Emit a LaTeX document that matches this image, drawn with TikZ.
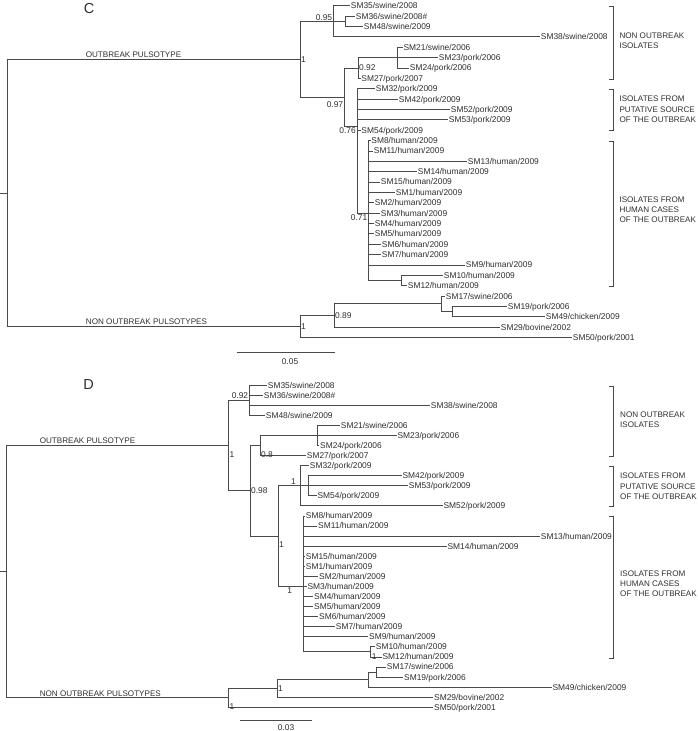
\documentclass[tikz,border=0pt]{standalone}
\usepackage{fontspec}
\setmainfont{Liberation Sans}
\usetikzlibrary{positioning}
\definecolor{tree1}{HTML}{4A4A4A}
\definecolor{tree2}{HTML}{2E2E2E}

\begin{document}
\begin{tikzpicture}[x=1pt,y=-1pt,
  limb/.style={draw=tree1, line width=0.75pt},
  leaf/.style={anchor=west, inner xsep=0.7pt, inner ysep=0pt, text height=6pt, text depth=0pt, text=tree2, font=\fontsize{8.4}{10}\selectfont},
  support/.style={inner sep=1pt, text height=6pt, text depth=0pt, text=tree2, font=\fontsize{8.4}{10}\selectfont},
  group/.style={anchor=south, inner sep=1.5pt, text=tree2, font=\fontsize{8.1}{10}\selectfont},
  clade/.style={anchor=west, align=left, inner sep=0pt, text=tree2, font=\fontsize{8.1}{10.2}\selectfont},
  panel/.style={text=tree2, font=\fontsize{14.5}{16}\selectfont}]
\useasboundingbox (0,0) rectangle (697,731);

% ---- panel C ----
\node[panel] (pC) at (89,8.5) {C};
\coordinate (stemC) at (0,192.9);
\coordinate (rootC) at (7,192.9);
\coordinate (n1C) at (300,59.3);
\coordinate (n095) at (333.3,21.3);
\coordinate (iC36) at (345,21.3);
\coordinate (n097) at (344.3,97.3);
\coordinate (n092) at (358,67.9);
\coordinate (cC21) at (397.3,57.55);
\coordinate (n076) at (357,126.7);
\coordinate (n071) at (368.5,213.1);
\coordinate (cC10) at (401.7,280.5);
\coordinate (n1Cb) at (300,326.5);
\coordinate (n089) at (334,315.5);
\coordinate (cC17) at (441,303.8);
\coordinate (cC19) at (452,311.6);
\draw[limb] (stemC) -- (rootC) (rootC) |- (n1C) (rootC) |- (n1Cb)
  (n1C) |- (n095) (n1C) |- (n097) (n095) -- (iC36)
  (n097) |- (n092) (n097) |- (n076) (n092) |- (cC21)
  (n076) |- (n071) (n071) |- (cC10)
  (n1Cb) |- (n089) (n089) |- (cC17) (cC17) |- (cC19);
\foreach \id/\host/\yr/\up/\xe [count=\i from 0] in {
  35/swine/2008/n095/350, 36/swine/2008\#/iC36/355, 48/swine/2009/iC36/363, 38/swine/2008/n095/540,
  21/swine/2006/cC21/402.7, 23/pork/2006/cC21/438, 24/pork/2006/cC21/409, 27/pork/2007/n092/360.5,
  32/pork/2009/n076/375, 42/pork/2009/n076/398, 52/pork/2009/n076/450, 53/pork/2009/n076/448, 54/pork/2009/n076/360.5,
  8/human/2009/n071/370.5, 11/human/2009/n071/373, 13/human/2009/n071/467, 14/human/2009/n071/417,
  15/human/2009/n071/380, 1/human/2009/n071/395, 2/human/2009/n071/374, 3/human/2009/n071/380,
  4/human/2009/n071/374, 5/human/2009/n071/374, 6/human/2009/n071/381, 7/human/2009/n071/381,
  9/human/2009/n071/465, 10/human/2009/cC10/443, 12/human/2009/cC10/407,
  17/swine/2006/cC17/445, 19/pork/2006/cC19/507, 49/chicken/2009/cC19/545,
  29/bovine/2002/n089/500, 50/pork/2001/n1Cb/572}
{
  \node[leaf] (C\id) at (\xe,5.7+\i*10.37) {SM\id/\host/\yr};
  \draw[limb] (\up) |- (C\id.west);
}
\node[support, anchor=south east] (sC095) at (n095) {0.95};
\node[support, anchor=west] (sC1) at (n1C) {1};
\node[support, anchor=west] (sC092) at (n092) {0.92};
\node[support, anchor=north east, yshift=-3pt] (sC097) at (n097) {0.97};
\node[support, anchor=north east] (sC076) at (n076) {0.76};
\node[support, anchor=north east] (sC071) at (n071) {0.71};
\node[support, anchor=west] (sC089) at (n089) {0.89};
\node[support, anchor=west] (sC1b) at (n1Cb) {1};
\node[group] (oC) at (133.5,59.3) {OUTBREAK PULSOTYPE};
\node[group] (nC) at (146.5,326.5) {NON OUTBREAK PULSOTYPES};
\node[clade] (gC1) at (619.3,41) {NON OUTBREAK\\ISOLATES};
\node[clade] (gC2) at (619.3,109.3) {ISOLATES FROM\\PUTATIVE SOURCE\\OF THE OUTBREAK};
\node[clade] (gC3) at (619.3,210) {ISOLATES FROM\\HUMAN CASES\\OF THE OUTBREAK};
\coordinate (sbC1) at (236.7,352.7);
\coordinate (sbC2) at (335,352.7);
\coordinate (sbCm) at (290,352.7);
\draw[limb] (sbC1) -- (sbC2);
\node[support, below=5pt of sbCm] (sbCt) {0.05};

% ---- panel D ----
\node[panel] (pD) at (88.5,385) {D};
\coordinate (stemD) at (0,571.6);
\coordinate (rootD) at (6,571.6);
\coordinate (n1D) at (228.3,445.4);
\coordinate (nD092) at (249.3,400.1);
\coordinate (nD098) at (250,490.7);
\coordinate (nD08) at (260,445.4);
\coordinate (cD21) at (317.3,435.35);
\coordinate (nDbig) at (278,536);
\coordinate (nDpork) at (300,485.7);
\coordinate (cD42) at (308.3,485.7);
\coordinate (nDhum) at (303.3,586.4);
\coordinate (cD10) at (370.7,651.86);
\coordinate (nDb2) at (228.3,697.8);
\coordinate (nDb1) at (277,688.4);
\coordinate (cDA) at (368.3,679.55);
\coordinate (cD17) at (376.7,672);
\draw[limb] (stemD) -- (rootD) (rootD) |- (n1D) (rootD) |- (nDb2)
  (n1D) |- (nD092) (n1D) |- (nD098) (nD098) |- (nD08) (nD098) |- (nDbig)
  (nD08) |- (cD21) (nDbig) |- (nDpork) (nDbig) |- (nDhum) (nDpork) -- (cD42)
  (nDhum) |- (cD10) (nDb2) |- (nDb1) (nDb1) |- (cDA) (cDA) |- (cD17);
\foreach \id/\host/\yr/\up/\xe [count=\i from 0] in {
  35/swine/2008/nD092/267, 36/swine/2008\#/nD092/263, 38/swine/2008/nD092/430, 48/swine/2009/nD092/265,
  21/swine/2006/cD21/340, 23/pork/2006/cD21/396.7, 24/pork/2006/cD21/319.3, 27/pork/2007/nD08/306,
  32/pork/2009/nDpork/309, 42/pork/2009/cD42/401.7, 53/pork/2009/cD42/408, 54/pork/2009/cD42/316.7, 52/pork/2009/nDpork/442.7,
  8/human/2009/nDhum/305, 11/human/2009/nDhum/317.3, 13/human/2009/nDhum/540, 14/human/2009/nDhum/446.7,
  15/human/2009/nDhum/305, 1/human/2009/nDhum/305, 2/human/2009/nDhum/318.3, 3/human/2009/nDhum/306.7,
  4/human/2009/nDhum/313.3, 5/human/2009/nDhum/313.3, 6/human/2009/nDhum/318.3, 7/human/2009/nDhum/335,
  9/human/2009/nDhum/368.3, 10/human/2009/cD10/375, 12/human/2009/cD10/381.7,
  17/swine/2006/cD17/386, 19/pork/2006/cD17/403.3, 49/chicken/2009/cDA/551.7,
  29/bovine/2002/nDb1/433.3, 50/pork/2001/nDb2/433.3}
{
  \node[leaf] (D\id) at (\xe,385+\i*10.07) {SM\id/\host/\yr};
  \draw[limb] (\up) |- (D\id.west);
}
\node[support, anchor=south east] (sD092) at (nD092) {0.92};
\node[support, anchor=north west, yshift=-5pt] (sD1) at (n1D) {1};
\node[support, anchor=north west, yshift=-5pt] (sD08) at (nD08) {0.8};
\node[support, anchor=west] (sD098) at (nD098) {0.98};
\node[support, anchor=south east, xshift=-3pt] (sDpork) at (nDpork) {1};
\node[support, anchor=north west, yshift=-4pt] (sDbig) at (nDbig) {1};
\node[support, anchor=north east, xshift=-10pt] (sDhum) at (nDhum) {1};
\node[support, anchor=north west] (sD10) at (cD10) {1};
\node[support, anchor=west] (sDb1) at (nDb1) {1};
\node[support, anchor=north west, yshift=-4pt] (sDb2) at (nDb2) {1};
\node[group] (oD) at (87.5,445.4) {OUTBREAK PULSOTYPE};
\node[group] (nD) at (100.3,697.8) {NON OUTBREAK PULSOTYPES};
\node[clade] (gD1) at (620,420) {NON OUTBREAK\\ISOLATES};
\node[clade] (gD2) at (620,486.3) {ISOLATES FROM\\PUTATIVE SOURCE\\OF THE OUTBREAK};
\node[clade] (gD3) at (620,584) {ISOLATES FROM\\HUMAN CASES\\OF THE OUTBREAK};
\coordinate (sbD1) at (240,720);
\coordinate (sbD2) at (312.3,720);
\coordinate (sbDm) at (286,720);
\draw[limb] (sbD1) -- (sbD2);
\node[support, below=3pt of sbDm] (sbDt) {0.03};

% brackets
\foreach \ya/\yb in {6.7/79, 89.3/130, 141/286.7, 386/456.7, 466.7/506.7, 516.7/658.3}
  \draw[limb] (609.3,\ya) -| (613.3,\yb) -- (609.3,\yb);
\end{tikzpicture}
\end{document}
